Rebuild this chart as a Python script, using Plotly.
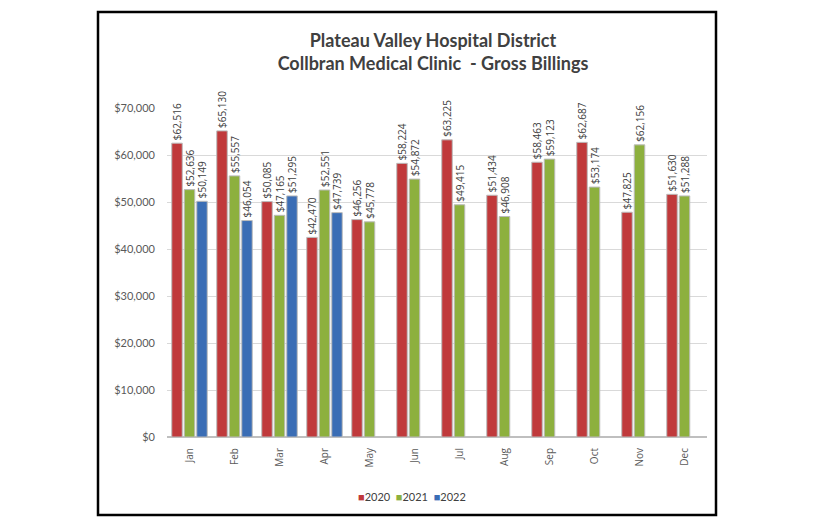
import plotly.graph_objects as go

months = ["Jan", "Feb", "Mar", "Apr", "May", "Jun", "Jul", "Aug", "Sep", "Oct", "Nov", "Dec"]
v2020 = [62516, 65130, 50085, 42470, 46256, 58224, 63225, 51434, 58463, 62687, 47825, 51630]
v2021 = [52636, 55557, 47165, 52551, 45778, 54872, 49415, 46908, 59123, 53174, 62156, 51288]
v2022 = [50149, 46054, 51295, 47739, None, None, None, None, None, None, None, None]
series_names = ["2020", "2021", "2022"]
series_colors = ["#C0393B", "#8DB03E", "#3A6DB5"]

def fmt(v):
    return "" if v is None else "${:,}".format(v)

fig = go.Figure()
for name, vals, col in zip(series_names, [v2020, v2021, v2022], series_colors):
    fig.add_trace(go.Bar(
        x=months, y=vals, name=name,
        marker=dict(color=col, line=dict(color="#BBBBBB", width=1)),
        text=[fmt(v) for v in vals],
        textposition="outside", textangle=-90, constraintext="none",
        textfont=dict(family="Open Sans", size=10, color="#404040"),
        cliponaxis=False, showlegend=False,
    ))

OFF = 8  # page body margin
L, R, T, B = 167, 707, 108, 437
W, H = 816, 528
pw, ph = R - L, B - T

def px_x(x):
    return (x - L) / pw

def px_y(y):
    return (B - y) / ph

legend_text = "&nbsp;&nbsp;".join(
    '<span style="color:{}">■</span>{}'.format(c, n) for n, c in zip(series_names, series_colors)
)

fig.update_layout(
    width=W, height=H,
    margin=dict(l=L - OFF, r=W - R + OFF, t=T - OFF, b=H - B + OFF, autoexpand=False),
    paper_bgcolor="white", plot_bgcolor="white",
    barmode="group", bargap=0.167, bargroupgap=0.16,
    title=dict(
        text="Plateau Valley Hospital District<br>Collbran Medical Clinic  - Gross Billings",
        x=(433 - OFF) / W, xanchor="center", y=1 - (47 - OFF) / H, yanchor="middle",
        font=dict(family="Lato", size=18, color="#404040", weight="bold"),
    ),
    annotations=[dict(
        text=legend_text, xref="paper", yref="paper",
        x=px_x(412), y=px_y(496), xanchor="center", yanchor="middle", showarrow=False,
        font=dict(family="Lato", size=11, color="#404040"),
    )],
    yaxis=dict(
        range=[0, 70000], dtick=10000, tickformat="$,.0f",
        showgrid=True, gridcolor="#D9D9D9", gridwidth=1,
        zeroline=True, zerolinecolor="#BFBFBF",
        tickfont=dict(family="Lato", size=11, color="#595959"),
        ticks="", ticklabelstandoff=11,
    ),
    xaxis=dict(
        tickangle=-90, showline=True, linecolor="#BFBFBF",
        tickfont=dict(family="Open Sans", size=10, color="#595959"),
        ticks="", ticklabelstandoff=6,
    ),
    shapes=[dict(
        type="rect", xref="paper", yref="paper",
        x0=px_x(98), x1=px_x(716), y0=px_y(515), y1=px_y(12),
        line=dict(color="black", width=2.5), fillcolor="rgba(0,0,0,0)", layer="above",
    )],
)

fig.write_html("out.html")
